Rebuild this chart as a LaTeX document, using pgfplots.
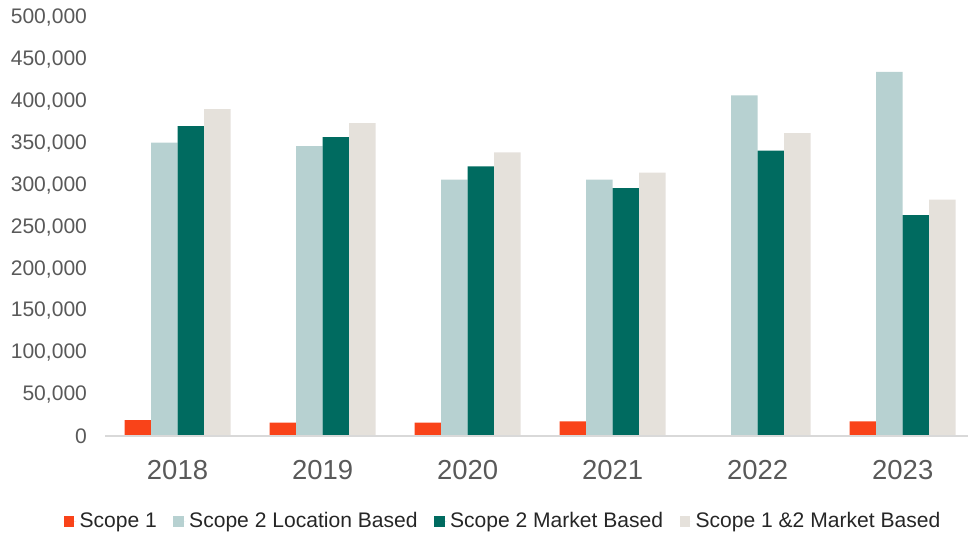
\documentclass[border=0pt]{standalone}
\usepackage{pgfplots}
\pgfplotsset{compat=1.18}
\usepackage{fontspec}
\setmainfont{Liberation Sans}
\definecolor{sone}{HTML}{F94319}
\definecolor{lb}{HTML}{B7D1D1}
\definecolor{mb}{HTML}{006B60}
\definecolor{stw}{HTML}{E5E1DB}
\definecolor{tickc}{HTML}{595959}
\definecolor{basec}{HTML}{D9D9D9}
\definecolor{legc}{HTML}{262626}
\begin{document}
\begin{tikzpicture}
\useasboundingbox (0pt,0pt) rectangle (726.75pt,400.5pt);
\begin{axis}[
  at={(78.75pt,73.125pt)}, anchor=south west,
  scale only axis, width=647.25pt, height=313.875pt,
  ybar=0pt, bar width=19.875pt,
  xmin=-0.5, xmax=5.45, ymin=0, ymax=500000,
  enlargelimits=false,
  axis line style={draw=none}, tick style={draw=none}, major tick length=0pt,
  ytick={0,50000,...,500000},
  xtick={0,1,2,3,4,5},
  xticklabels={2018,2019,2020,2021,2022,2023},
  scaled y ticks=false,
  /pgf/number format/assume math mode=true,
  /pgf/number format/.cd, fixed, 1000 sep={,}, /pgfplots/.cd,
  yticklabel style={font=\fontsize{15.8}{18}\selectfont, text=tickc, xshift=-10pt},
  xticklabel style={font=\fontsize{20.6}{24}\selectfont, text=tickc, yshift=-14pt},
  legend columns=4,
  legend style={draw=none, fill=none, at={(axis description cs:0.462,-0.202)}, anchor=center,
    font=\fontsize{15.8}{18}\selectfont, text=legc,
    /tikz/every even column/.append style={column sep=10pt},
    nodes={inner sep=2.5pt}},
  legend image code/.code={\fill[#1, draw=none] (0pt,-4.1pt) rectangle (7.8pt,4.1pt); \path (0pt,0pt) -- (9.3pt,0pt);},
]
\addplot[fill=sone, draw=none] coordinates {(0,19700) (1,16500) (2,16500) (3,18100) (4,0) (5,18100)};
\addplot[fill=lb, draw=none] coordinates {(0,351000) (1,347000) (2,306800) (3,306800) (4,407400) (5,435700)};
\addplot[fill=mb, draw=none] coordinates {(0,370800) (1,357700) (2,322700) (3,296800) (4,341400) (5,264600)};
\addplot[fill=stw, draw=none] coordinates {(0,391000) (1,374400) (2,339400) (3,315200) (4,362400) (5,283000)};
\legend{Scope 1, Scope 2 Location Based, Scope 2 Market Based, Scope 1 \&2 Market Based}
\draw[basec, line width=1.5pt] (axis cs:-0.5,0) -- (axis cs:5.45,0);
\end{axis}
\end{tikzpicture}
\end{document}
